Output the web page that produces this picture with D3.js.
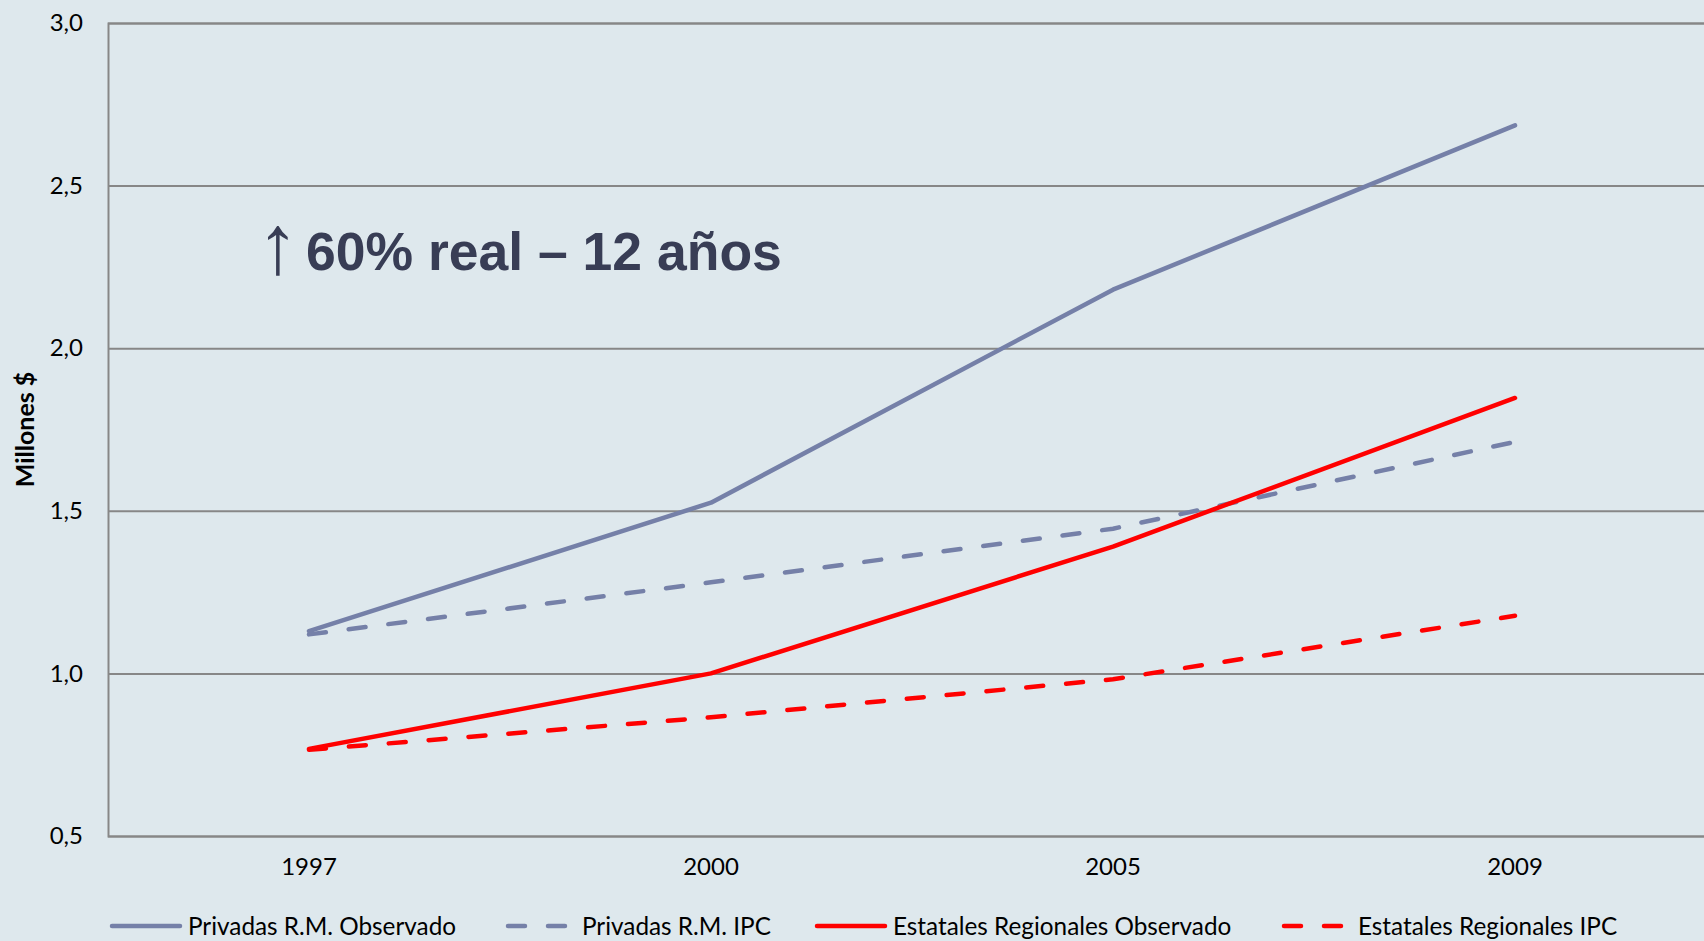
<!DOCTYPE html>
<html>
<head>
<meta charset="utf-8">
<script src="https://cdn.jsdelivr.net/npm/d3@7"></script>
<style>
  html, body { margin: 0; padding: 0; background: #dee8ed; }
  svg { display: block; }
</style>
</head>
<body>
<svg id="chart" width="1704" height="941"></svg>
<script>
const years = ["1997", "2000", "2005", "2009"];
const privadasObservado = [1.13, 1.525, 2.18, 2.685];
const privadasIPC = [1.12, 1.28, 1.445, 1.712];
const estatalesObservado = [0.768, 1.0, 1.39, 1.847];
const estatalesIPC = [0.765, 0.865, 0.982, 1.177];
const yTicks = [0.5, 1.0, 1.5, 2.0, 2.5, 3.0];

const series = [
  { name: "Privadas R.M. Observado", values: privadasObservado, color: "#7580a8", dashed: false },
  { name: "Privadas R.M. IPC", values: privadasIPC, color: "#7580a8", dashed: true },
  { name: "Estatales Regionales Observado", values: estatalesObservado, color: "#ff0000", dashed: false },
  { name: "Estatales Regionales IPC", values: estatalesIPC, color: "#ff0000", dashed: true }
];

const width = 1704, height = 941;
const margin = { top: 23, right: -12, bottom: 105, left: 108 };
const font = "Lato, 'Open Sans', sans-serif";

const svg = d3.select("#chart");
svg.append("rect").attr("width", width).attr("height", height).attr("fill", "#dee8ed");

const x = d3.scaleBand()
  .domain(years)
  .range([margin.left, width - margin.right]);

const y = d3.scaleLinear()
  .domain([0.5, 3])
  .range([height - margin.bottom, margin.top]);

const fmt = (d) => d3.format(".1f")(d).replace(".", ",");

// grid + y axis
const yAxis = (g) => g.attr("transform", `translate(${margin.left},0)`)
  .call(d3.axisLeft(y).tickValues(yTicks).tickFormat(fmt).tickSize(-(width - margin.left)).tickPadding(25))
  .call((g) => g.select(".domain").attr("stroke", "#878787").attr("stroke-width", 2))
  .call((g) => g.selectAll(".tick line").attr("stroke", "#878787").attr("stroke-width", 2))
  .call((g) => g.selectAll(".tick text")
    .attr("fill", "#000").style("font-family", font).style("font-size", "24px"));
svg.append("g").call(yAxis);

const xAxis = (g) => g.attr("transform", `translate(0,${height - margin.bottom})`)
  .call(d3.axisBottom(x).tickSize(0).tickPadding(22))
  .call((g) => g.select(".domain").remove())
  .call((g) => g.selectAll(".tick text")
    .attr("fill", "#000").style("font-family", font).style("font-size", "24px"));
svg.append("g").call(xAxis);

// y title
svg.append("text")
  .attr("transform", `translate(34,${(y(3) + y(0.5)) / 2}) rotate(-90)`)
  .attr("text-anchor", "middle")
  .style("font-family", font)
  .style("font-size", "25px")
  .style("font-weight", "bold")
  .text("Millones  $");

// lines
const line = d3.line()
  .x((d, i) => x(years[i]) + x.bandwidth() / 2)
  .y((d) => y(d));

svg.append("g")
  .selectAll("path")
  .data(series)
  .join("path")
  .attr("d", (d) => line(d.values))
  .attr("fill", "none")
  .attr("stroke", (d) => d.color)
  .attr("stroke-width", 4.5)
  .attr("stroke-linecap", "round")
  .attr("stroke-linejoin", "round")
  .attr("stroke-dasharray", (d) => d.dashed ? "17,23" : null);

// annotation
const note = svg.append("text")
  .attr("x", 257)
  .attr("y", 273)
  .attr("fill", "#383d55");
note.append("tspan")
  .style("font-family", "'Liberation Sans', Arial, sans-serif")
  .style("font-size", "84px")
  .attr("transform", "scale(1.3,1)")
  .text("↑");
note.append("tspan")
  .attr("x", 306)
  .attr("y", 270)
  .style("font-family", "'Liberation Sans', Arial, sans-serif")
  .style("font-size", "53.5px")
  .style("font-weight", "bold")
  .text("60% real – 12 años");

// legend
const legendX = [112, 506, 817, 1282];
const legendY = 926;
const legend = svg.append("g")
  .selectAll("g")
  .data(series)
  .join("g")
  .attr("transform", (d, i) => `translate(${legendX[i]},${legendY})`);

legend.append("line")
  .attr("x1", (d) => d.dashed ? 2 : 0)
  .attr("x2", (d) => d.dashed ? 62 : 68)
  .attr("stroke", (d) => d.color)
  .attr("stroke-width", 4.5)
  .attr("stroke-linecap", "round")
  .attr("stroke-dasharray", (d) => d.dashed ? "17,23" : null);

legend.append("text")
  .attr("x", 76)
  .attr("dy", "0.35em")
  .style("font-family", font)
  .style("font-size", "24.3px")
  .attr("fill", "#000")
  .text((d) => d.name);
</script>
</body>
</html>
